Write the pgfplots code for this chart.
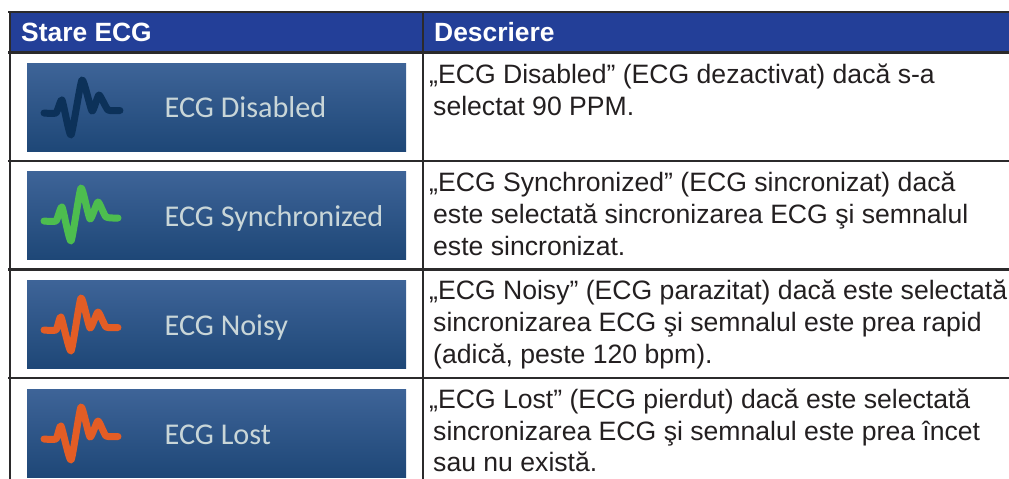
\documentclass[border=0pt]{standalone}
\usepackage{pgfplots}
\pgfplotsset{compat=1.18}
\usepackage{fontspec}
\setmainfont{Liberation Sans}
\newfontfamily\carlito{Carlito}
\definecolor{hdr}{HTML}{233F98}
\definecolor{rule}{HTML}{2B2A2B}
\definecolor{txt}{HTML}{231F20}
\definecolor{gtop}{HTML}{3E6498}
\definecolor{gmid}{HTML}{315B8D}
\definecolor{gbot}{HTML}{1E4777}
\definecolor{lab}{HTML}{C9D6D8}
\definecolor{ecgdark}{HTML}{0C3159}
\definecolor{ecggreen}{HTML}{4DBD4F}
\definecolor{ecgorange}{HTML}{E35D25}
\newcommand{\dtext}[3]{\node[anchor=base west,inner sep=0pt,text=txt,font=\fontsize{26.6}{30}\selectfont] at (axis cs:#1,#2) {#3};}
\newcommand{\ltext}[2]{\node[anchor=base west,inner sep=0pt,text=lab,font=\carlito\fontsize{30.2}{32}\selectfont] at (axis cs:164.5,#1) {#2};}
\newcommand{\panel}[2]{\addplot[draw=none,top color=gtop,middle color=gmid,bottom color=gbot] coordinates {(27,#1)(406,#1)(406,#2)(27,#2)} -- cycle;}
\begin{document}
\begin{tikzpicture}
\path[use as bounding box] (0,0) rectangle (1009pt,479pt);
\begin{axis}[
  scale only axis,width=1009pt,height=479pt,
  xmin=0,xmax=1009,ymin=0,ymax=479,y dir=reverse,
  axis lines=none,
  clip=true]
% header
\addplot[draw=none,fill=hdr] coordinates {(9,12)(1009,12)(1009,52)(9,52)} -- cycle;
% images
\panel{63}{151}
\panel{171}{259}
\panel{280}{368}
\panel{389}{477}
% rules
\addplot[rule,line width=2.6pt] coordinates {(8,12)(1009,12)};
\addplot[rule,line width=2.6pt] coordinates {(8,52.5)(1009,52.5)};
\addplot[rule,line width=2.6pt] coordinates {(8,161)(1009,161)};
\addplot[rule,line width=2.6pt] coordinates {(8,269.5)(1009,269.5)};
\addplot[rule,line width=2.6pt] coordinates {(8,378)(1009,378)};
\addplot[rule,line width=2.6pt] coordinates {(10,11)(10,479)};
\addplot[rule,line width=2.6pt] coordinates {(423,11)(423,479)};
% ECG icons
\addplot[ecgdark,line width=7pt,line cap=round,line join=round,smooth,tension=0.3] coordinates {(44,113)(56,113)(62,100)(71,135)(82,80)(92,111)(99,95)(108,110)(120,110.5)};
\addplot[ecggreen,line width=7pt,line cap=round,line join=round,smooth,tension=0.3] coordinates {(44,221)(56,221)(62,207)(71,241)(81,188)(90,219)(98,202)(106,217)(118,218)};
\addplot[ecgorange,line width=7pt,line cap=round,line join=round,smooth,tension=0.3] coordinates {(44,330)(56,330)(61,317)(71,351)(81,298)(90,328)(98,312)(106,327)(118,327.5)};
\addplot[ecgorange,line width=7pt,line cap=round,line join=round,smooth,tension=0.3] coordinates {(44,439)(56,439)(61,426)(71,460)(81,407)(90,437)(98,421)(106,436)(118,436.5)};
% header text
\node[anchor=base west,inner sep=0pt,text=white,font=\bfseries\fontsize{26.4}{30}\selectfont] at (axis cs:21,41.5) {Stare ECG};
\node[anchor=base west,inner sep=0pt,text=white,font=\bfseries\fontsize{26.4}{30}\selectfont] at (axis cs:434,41.5) {Descriere};
% image labels
\ltext{117.5}{ECG Disabled}
\ltext{226}{ECG Synchronized}
\ltext{335}{ECG Noisy}
\ltext{444}{ECG Lost}
% descriptions
\dtext{429}{83}{„ECG Disabled” (ECG dezactivat) dacă s-a}
\dtext{433}{115}{selectat 90 PPM.}
\dtext{429}{191.7}{„ECG Synchronized” (ECG sincronizat) dacă}
\dtext{433}{223.3}{este selectată sincronizarea ECG şi semnalul}
\dtext{433}{255}{este sincronizat.}
\dtext{429}{299.5}{„ECG Noisy” (ECG parazitat) dacă este selectată}
\dtext{433}{331.5}{sincronizarea ECG şi semnalul este prea rapid}
\dtext{433}{363.3}{(adică, peste 120 bpm).}
\dtext{429}{408.3}{„ECG Lost” (ECG pierdut) dacă este selectată}
\dtext{433}{440}{sincronizarea ECG şi semnalul este prea încet}
\dtext{433}{471.7}{sau nu există.}
\end{axis}
\end{tikzpicture}
\end{document}
